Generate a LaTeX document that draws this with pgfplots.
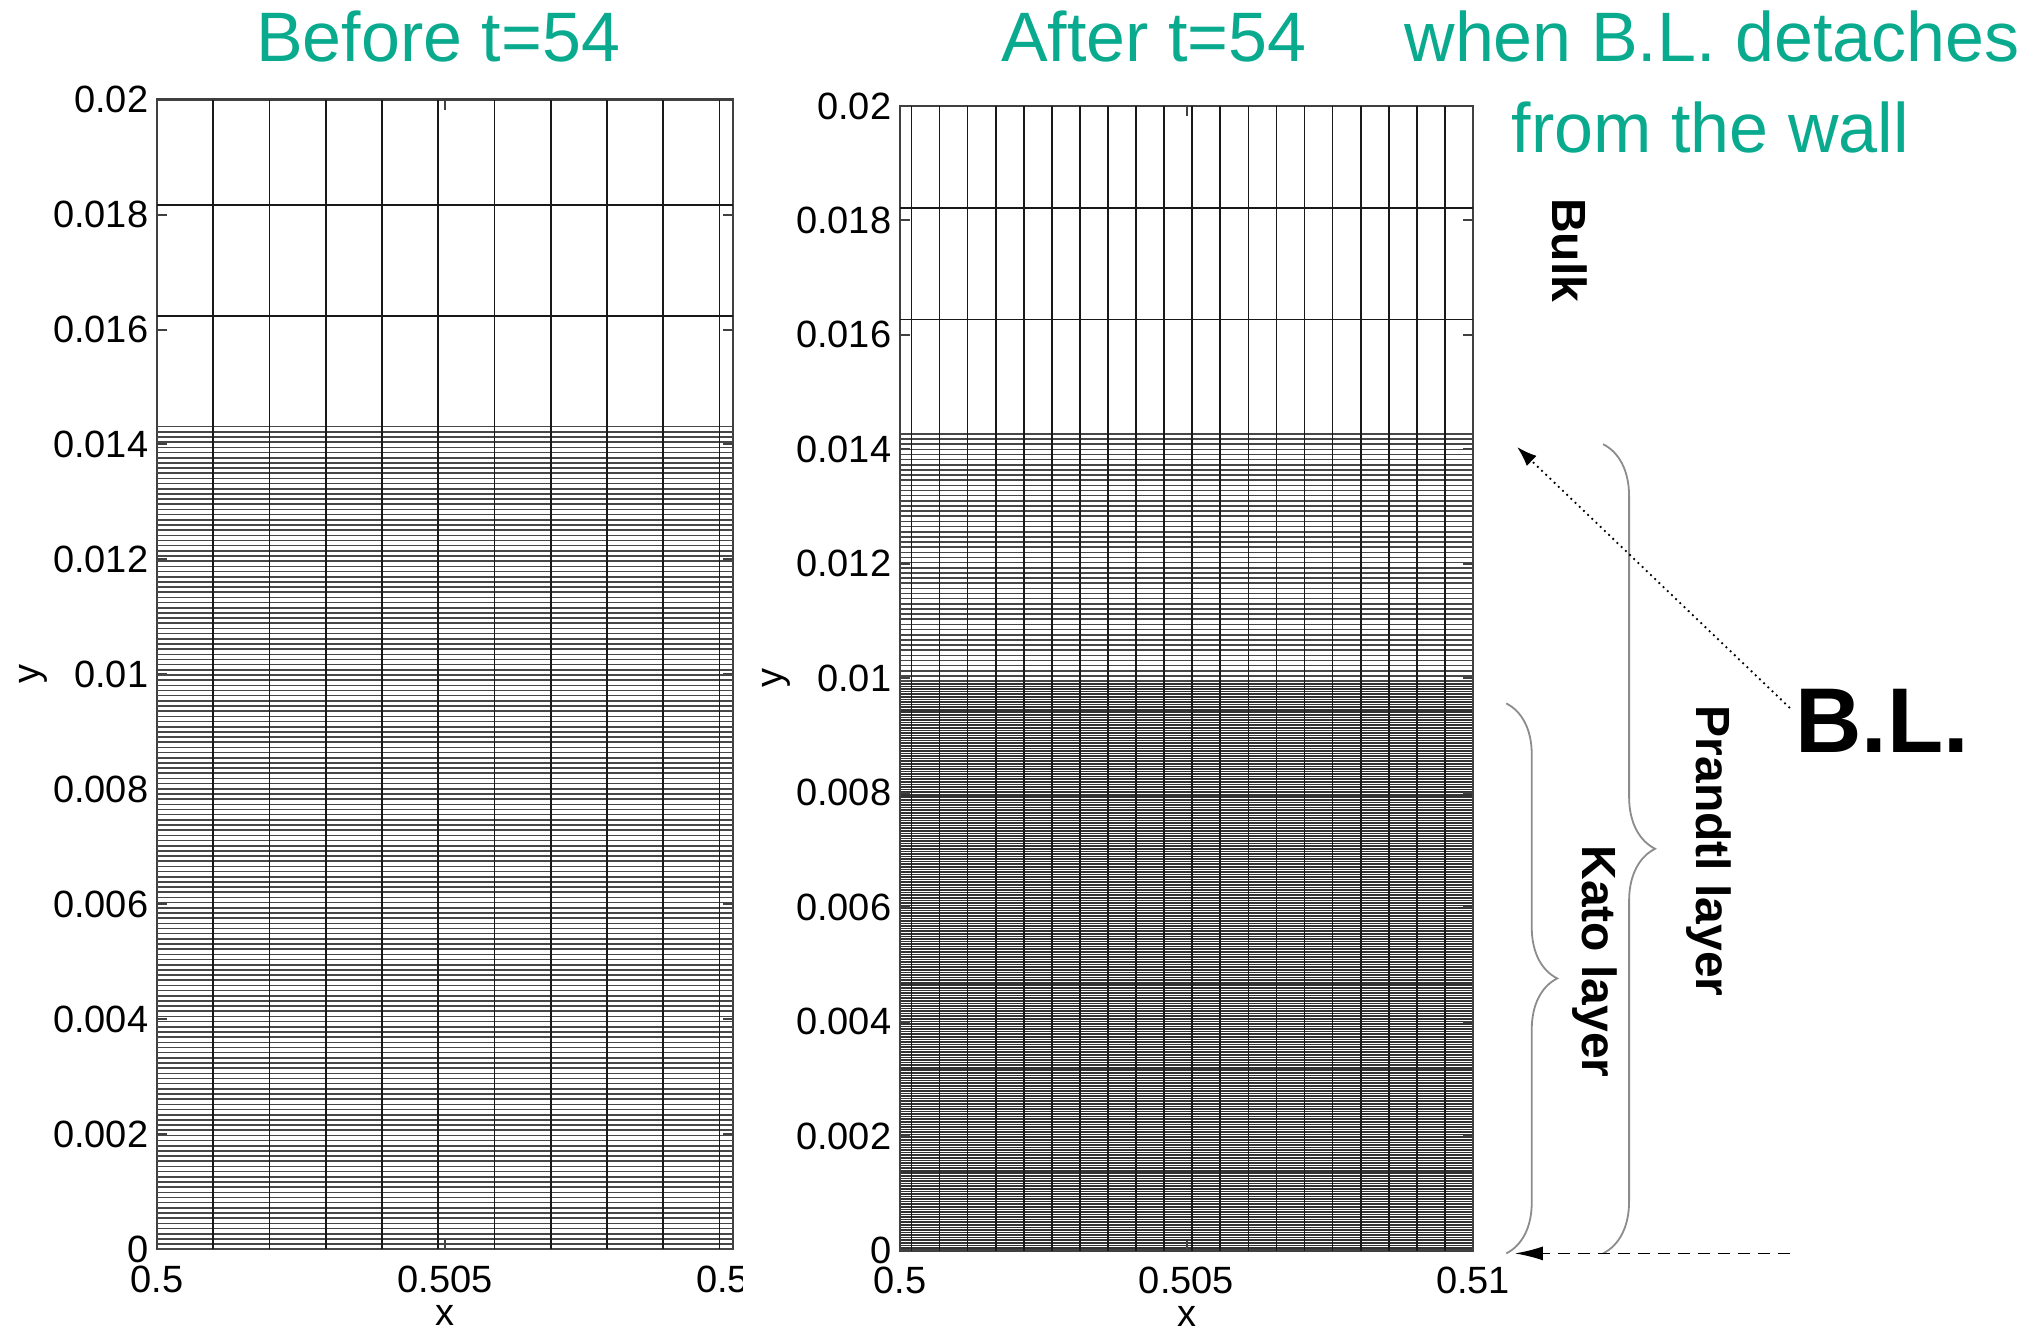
\documentclass[border=0pt]{standalone}
\usepackage{fontspec}
\setmainfont{Liberation Sans}
\usepackage{pgfplots}
\pgfplotsset{compat=1.18}
\usetikzlibrary{decorations.pathreplacing,arrows.meta}
\definecolor{tealtitle}{RGB}{10,170,142}
% y values are given in units of 10^{-3}
\pgfplotsset{
  meshax/.style={
    scale only axis, clip=false,
    xmin=0.5, xmax=0.51, ymin=0, ymax=20,
    xtick={0.5,0.505,0.51}, xticklabels={0.5,0.505,0.51},
    ytick={0,2,4,6,8,10,12,14,16,18,20},
    yticklabels={0,0.002,0.004,0.006,0.008,0.01,0.012,0.014,0.016,0.018,0.02},
    tick align=inside, major tick length=2.5pt,
    tick style={black!75, line width=0.5pt},
    axis line style={black!75, line width=0.6pt},
    ticklabel style={font=\fontsize{9.5}{11}\selectfont, inner sep=2pt},
    xticklabel style={yshift=-2pt},
    xlabel={x}, ylabel={y},
    xlabel shift=-2.5pt, ylabel shift=-4pt,
    label style={font=\fontsize{9.5}{11}\selectfont},
    extra y tick labels={},
    extra y tick style={grid=major, major tick length=0pt,
      major grid style={black!72, line width=0.4pt}},
  },
  meshline/.style={black!90, line width=0.42pt, no marks},
}
\tikzset{
  titletext/.style={font=\fontsize{17.5}{21}\selectfont, text=tealtitle, anchor=base},
  annot/.style={font=\fontsize{12}{14}\selectfont\bfseries, rotate=-90},
}
\begin{document}
\begin{tikzpicture}
\path[use as bounding box] (-39.25pt,-20.9pt) rectangle (468.25pt,312.3pt);
\begin{scope}
\clip (-39.25pt,-20.9pt) rectangle (146.25pt,312.3pt);
\begin{axis}[meshax, width=144pt, height=287.4pt, at={(0pt,0pt)}, anchor=south west,
  extra y ticks={0,0.09,...,14.31}]
  \addplot[meshline, ycomb] coordinates {
    (0.500977,20) (0.501953,20) (0.502930,20) (0.503906,20) (0.504883,20)
    (0.505859,20) (0.506836,20) (0.507813,20) (0.508789,20) (0.509766,20)};
  \addplot[meshline, unbounded coords=jump] coordinates {
    (0.5,18.17) (0.51,18.17) (nan,nan) (0.5,16.24) (0.51,16.24)};
  \node[titletext] at (rel axis cs:0.488,1) [yshift=9.5pt] {Before t=54};
\end{axis}
\end{scope}
\begin{axis}[meshax, width=143.25pt, height=286.15pt, at={(185.75pt,-0.33pt)}, anchor=south west,
  extra y ticks={9.95,10.04,...,14.30},
  minor ytick={0,0.045,...,9.9}, yminorgrids=true, minor tick length=0pt,
  minor grid style={black!80, line width=0.4pt}]
  \addplot[meshline, ycomb] coordinates {
    (0.50020,20) (0.50069,20) (0.50118,20) (0.50167,20) (0.50216,20)
    (0.50265,20) (0.50314,20) (0.50363,20) (0.50412,20) (0.50461,20)
    (0.50510,20) (0.50559,20) (0.50608,20) (0.50657,20) (0.50706,20)
    (0.50755,20) (0.50804,20) (0.50853,20) (0.50902,20) (0.50951,20)};
  \addplot[meshline, unbounded coords=jump] coordinates {
    (0.5,18.22) (0.51,18.22) (nan,nan) (0.5,16.27) (0.51,16.27)};
  \node[titletext] at (rel axis cs:0.443,1) [yshift=11pt] {After t=54};
  \node[titletext] at (axis cs:0.51417,20.77) {when B.L. detaches};
  \node[titletext] at (axis cs:0.51414,19.18) {from the wall};
  \node[annot] at (axis cs:0.51169,17.48) {Bulk};
  \node[annot] at (axis cs:0.51412,6.98) {Prandtl layer};
  \node[annot] at (axis cs:0.51213,5.05) {Kato layer};
  \node[font=\fontsize{23}{27}\selectfont\bfseries] at (axis cs:0.51714,9.25) {B.L.};
  \draw[black!45, line width=0.45pt, decorate, decoration={brace, amplitude=13pt}]
    (axis cs:0.51227,14.09) -- (axis cs:0.51227,-0.05);
  \draw[black!45, line width=0.45pt, decorate, decoration={brace, amplitude=12.75pt}]
    (axis cs:0.51058,9.56) -- (axis cs:0.51058,-0.05);
  \draw[densely dotted, line width=0.45pt, -{Latex[length=5pt,width=3.5pt]}]
    (axis cs:0.51553,9.48) -- (axis cs:0.51077,14.04);
  \draw[densely dashed, line width=0.4pt, -{Latex[length=7pt,width=3.5pt]}]
    (axis cs:0.51553,-0.05) -- (axis cs:0.51073,-0.05);
\end{axis}
\end{tikzpicture}
\end{document}
